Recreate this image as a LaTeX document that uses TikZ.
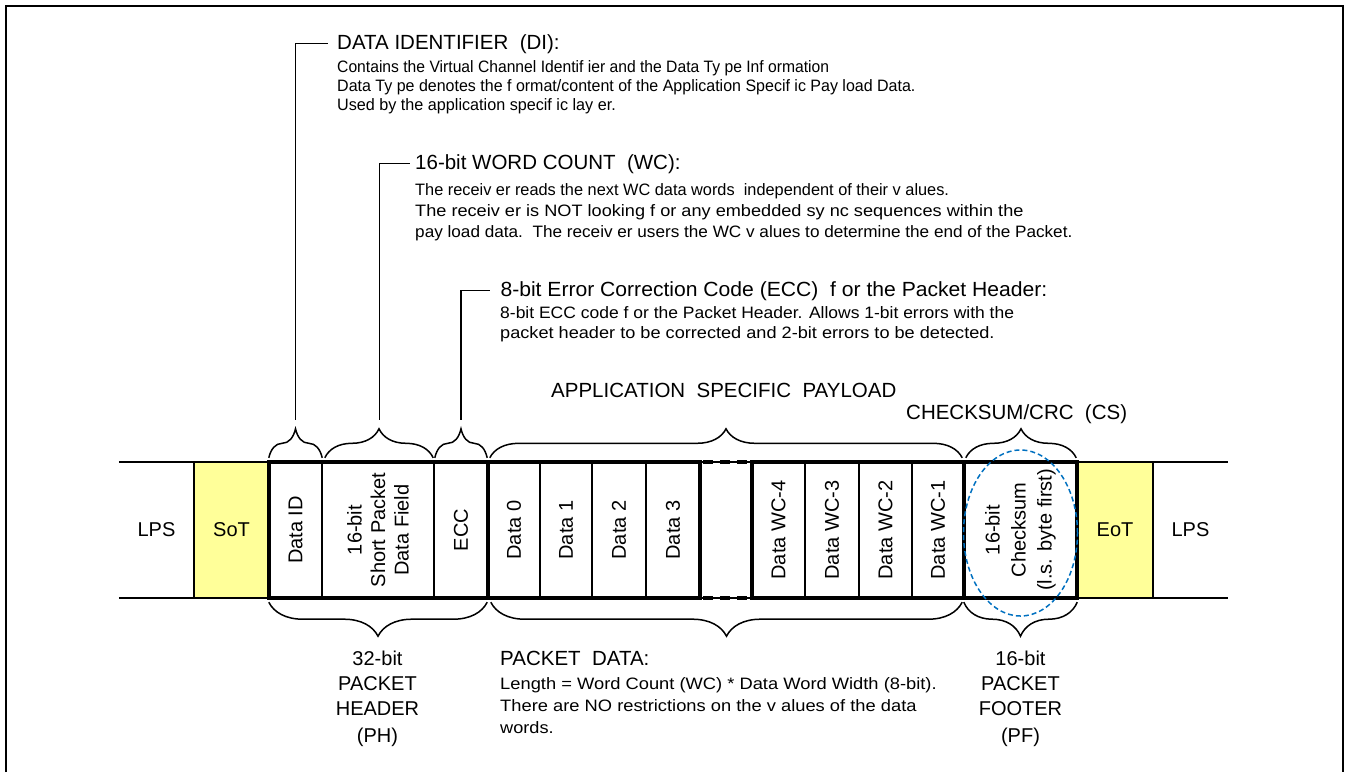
\documentclass[tikz,border=0pt]{standalone}
\usepackage{fontspec}
\setmainfont{Liberation Sans}
\usetikzlibrary{decorations.pathreplacing,calc}
\definecolor{cellyellow}{HTML}{FFFF99}
\definecolor{ellblue}{HTML}{0070C0}
\begin{document}
\begin{tikzpicture}[x=1pt,y=-1pt,
  thinln/.style={line width=1.5pt},
  thickln/.style={line width=4.5pt, line join=miter},
  dotln/.style={line width=4.5pt, dash pattern=on 10pt off 7pt, dash phase=14pt},
  cellbox/.style={inner sep=0pt, minimum height=136pt},
  celltext/.style={font=\fontsize{20}{23.5}\selectfont, align=center, inner sep=0pt},
  rottext/.style={celltext, rotate=90},
  topbrace/.style={line width=1.5pt, decorate, decoration={brace, amplitude=29pt}},
  botbrace/.style={line width=1.5pt, decorate, decoration={brace, amplitude=34pt, mirror}},
  hdr/.style={font=\fontsize{20.5}{24}\selectfont, anchor=base west, inner ysep=0pt},
  body/.style={font=\fontsize{16.5}{19}\selectfont, anchor=base west, inner sep=0pt},
  ctr/.style={font=\fontsize{20}{24}\selectfont, anchor=base, inner sep=0pt},
  leader/.style={line width=1.5pt},
  ovalmark/.style={draw=ellblue, line width=1.5pt, dash pattern=on 5pt off 3pt}
]
\useasboundingbox (0,0) rectangle (1346,772);
% frame
\draw[line width=2pt] (6,772) -- (6,6) -- (1343,6) -- (1343,772);

% cells
\node[cellbox, minimum width=75pt] (lpsL) at (156.5,530) {};
\node[cellbox, minimum width=75pt, fill=cellyellow] (sot) at (231.5,530) {};
\node[cellbox, minimum width=53pt] (di) at (295.5,530) {};
\node[cellbox, minimum width=112pt] (spdf) at (378,530) {};
\node[cellbox, minimum width=54pt] (ecc) at (461,530) {};
\node[cellbox, minimum width=52pt] (d0) at (514,530) {};
\node[cellbox, minimum width=52pt] (d1) at (566,530) {};
\node[cellbox, minimum width=54pt] (d2) at (619,530) {};
\node[cellbox, minimum width=54pt] (d3) at (673,530) {};
\node[cellbox, minimum width=53pt] (wc4) at (778.5,530) {};
\node[cellbox, minimum width=54pt] (wc3) at (832,530) {};
\node[cellbox, minimum width=53pt] (wc2) at (885.5,530) {};
\node[cellbox, minimum width=52pt] (wc1) at (938,530) {};
\node[cellbox, minimum width=113pt] (cs) at (1020.5,530) {};
\node[cellbox, minimum width=76pt, fill=cellyellow] (eot) at (1115,530) {};
\node[cellbox, minimum width=75pt] (lpsR) at (1190.5,530) {};

% thin band lines
\draw[thinln] (lpsL.north west) -- (lpsR.north east);
\draw[thinln] (lpsL.south west) -- (lpsR.south east);
\foreach \c in {lpsL,di,spdf,d0,d1,d2,wc4,wc3,wc2,eot}
  \draw[thinln] (\c.north east) -- (\c.south east);

% thick packet outline
\draw[thickln] (di.north west) rectangle (d3.south east);
\draw[thickln] (ecc.north east) -- (ecc.south east);
\draw[thickln] (wc4.north west) rectangle (cs.south east);
\draw[thickln] (wc1.north east) -- (wc1.south east);
\draw[dotln] (d3.north east) -- (wc4.north west);
\draw[dotln] (d3.south east) -- (wc4.south west);

% cell texts
\node[celltext] (lpsLT) at (lpsL) {LPS};
\node[celltext] (sotT) at (sot) {SoT};
\node[rottext] (diT) at (di) {Data ID};
\node[rottext] (spdfT) at (spdf) {16-bit\\Short Packet\\Data Field};
\node[rottext] (eccT) at (ecc) {ECC};
\node[rottext] (d0T) at (d0) {Data 0};
\node[rottext] (d1T) at (d1) {Data 1};
\node[rottext] (d2T) at (d2) {Data 2};
\node[rottext] (d3T) at (d3) {Data 3};
\node[rottext] (wc4T) at (wc4) {Data WC-4};
\node[rottext] (wc3T) at (wc3) {Data WC-3};
\node[rottext] (wc2T) at (wc2) {Data WC-2};
\node[rottext] (wc1T) at (wc1) {Data WC-1};
\node[rottext, font=\fontsize{20}{26}\selectfont] (csT) at (cs) {16-bit\\Checksum\\(l.s. byte first)};
\node[celltext] (eotT) at (eot) {EoT};
\node[celltext] (lpsRT) at (lpsR) {LPS};

% dashed oval
\draw[ovalmark] ($(cs.center)+(0,3)$) ellipse [x radius=57pt, y radius=83pt];

% top braces
\draw[topbrace] ($(di.north west)+(0,-4)$) -- ($(di.north east)+(0,-4)$);
\draw[topbrace] ($(spdf.north west)+(3,-4)$) -- ($(spdf.north east)+(-1,-4)$);
\draw[topbrace] ($(ecc.north west)+(1,-4)$) -- ($(ecc.north east)+(-1,-4)$);
\draw[topbrace] ($(d0.north west)+(2,-4)$) -- ($(wc1.north east)+(-2,-4)$);
\draw[topbrace] ($(cs.north west)+(2,-4)$) -- ($(cs.north east)+(-1,-4)$);

% bottom braces
\draw[botbrace] ($(di.south west)+(0,4)$) -- ($(ecc.south east)+(-1,4)$);
\draw[botbrace] ($(d0.south west)+(3,4)$) -- ($(wc1.south east)+(-2,4)$);
\draw[botbrace] ($(cs.south west)+(0,4)$) -- ($(cs.south east)+(0,4)$);

% brace tips for leaders
\coordinate (diTip) at ($(di.north)+(0,-42)$);
\coordinate (wcTip) at ($(spdf.north)+(1.5,-42)$);
\coordinate (eccTip) at ($(ecc.north)+(0,-42)$);

% DI description
\node[hdr, inner xsep=9pt] (diHead) at (328,49) {DATA IDENTIFIER\ \ (DI):};
\node[body, xscale=0.95] (diL1) at (337,72) {Contains the Virtual Channel Identif ier and the Data Ty pe Inf ormation};
\node[body, xscale=0.97] (diL2) at (337,91) {Data Ty pe denotes the f ormat/content of the Application Specif ic Pay load Data.};
\node[body, xscale=0.98] (diL3) at (337,110) {Used by the application specif ic lay er.};
\draw[leader] (diTip) |- (diHead.west);

% WC description
\node[hdr, inner xsep=5pt] (wcHead) at (410,169) {16-bit WORD COUNT\ \ (WC):};
\node[body, xscale=0.99] (wcL1) at (415,195) {The receiv er reads the next WC data words\ \ independent of their v alues.};
\node[body, xscale=1.1] (wcL2) at (415,216) {The receiv er is NOT looking f or any embedded sy nc sequences within the};
\node[body, xscale=1.04] (wcL3) at (415,237) {pay load data.\ \ The receiv er users the WC v alues to determine the end of the Packet.};
\draw[leader] (wcTip) |- (wcHead.west);

% ECC description
\node[hdr, inner xsep=10pt, xscale=1.03] (eccHead) at (490,296) {8-bit Error Correction Code (ECC)\ \ f or the Packet Header:};
\node[body, xscale=1.06] (eccL1) at (500,318) {8-bit ECC code f or the Packet Header. Allows 1-bit errors with the};
\node[body, xscale=1.1] (eccL2) at (500,338) {packet header to be corrected and 2-bit errors to be detected.};
\draw[leader] (eccTip) |- (eccHead.west);

% labels above braces
\node[hdr, inner sep=0pt] (asp) at (551,397) {APPLICATION\ \ SPECIFIC\ \ PAYLOAD};
\node[hdr, inner sep=0pt] (csLbl) at (906,419) {CHECKSUM/CRC\ \ (CS)};

% bottom labels
\node[ctr] (ph1) at ($(di.south west)!0.5!(ecc.south east)+(-1,67)$) {32-bit};
\node[ctr] (ph2) at ($(ph1.base)+(0,25)$) {PACKET};
\node[ctr] (ph3) at ($(ph2.base)+(0,25)$) {HEADER};
\node[ctr] (ph4) at ($(ph3.base)+(0,27)$) {(PH)};

\node[hdr, inner sep=0pt] (pdHead) at (500,665) {PACKET\ \ DATA:};
\node[body, xscale=1.11] (pdL1) at (500,689) {Length = Word Count (WC) * Data Word Width (8-bit).};
\node[body, xscale=1.11] (pdL2) at (500,711) {There are NO restrictions on the v alues of the data};
\node[body, xscale=1.1] (pdL3) at (500,733) {words.};

\node[ctr] (pf1) at ($(cs.south)+(0,67)$) {16-bit};
\node[ctr] (pf2) at ($(pf1.base)+(0,25)$) {PACKET};
\node[ctr] (pf3) at ($(pf2.base)+(0,25)$) {FOOTER};
\node[ctr] (pf4) at ($(pf3.base)+(0,27)$) {(PF)};
\end{tikzpicture}
\end{document}
